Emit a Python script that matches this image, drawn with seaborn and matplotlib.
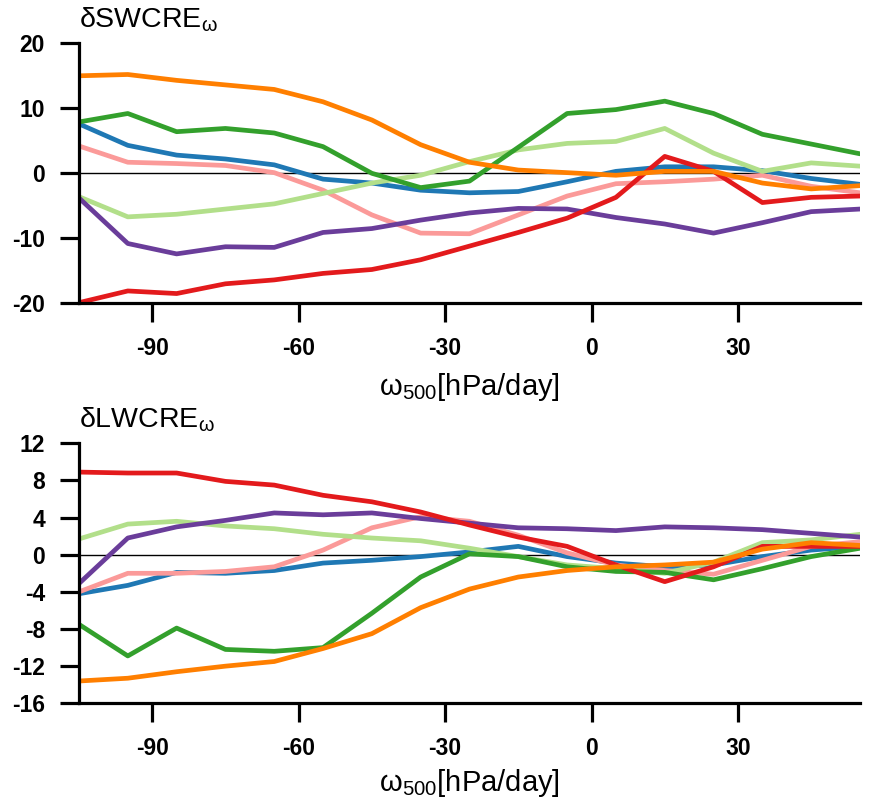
import matplotlib

matplotlib.use("Agg")
import matplotlib.pyplot as plt
import pandas as pd
import seaborn as sns

# omega500 bins (hPa/day)
OMEGA = [-105, -95, -85, -75, -65, -55, -45, -35, -25, -15, -5, 5, 15, 25, 35, 45, 55]

SERIES = ["blue", "pink", "lightgreen", "green", "purple", "red", "orange"]
COLORS = {
    "blue": "#1f78b4",
    "pink": "#fb9a99",
    "lightgreen": "#b2df8a",
    "green": "#33a02c",
    "purple": "#6a3d9a",
    "red": "#e31a1c",
    "orange": "#ff7f00",
}

# delta SWCRE_omega
SW_BLUE = [7.6, 4.3, 2.8, 2.2, 1.3, -0.9, -1.5, -2.6, -3.0, -2.8, -1.3, 0.3, 1.0, 1.0, 0.4, -0.8, -1.7]
SW_PINK = [4.2, 1.7, 1.5, 1.2, 0.1, -2.6, -6.4, -9.2, -9.3, -6.4, -3.5, -1.6, -1.3, -0.9, -0.3, -2.0, -3.0]
SW_LIGHTGREEN = [-3.6, -6.7, -6.3, -5.5, -4.7, -3.1, -1.5, -0.3, 1.8, 3.6, 4.6, 4.9, 6.9, 3.1, 0.3, 1.6, 1.1]
SW_GREEN = [7.9, 9.2, 6.4, 6.9, 6.2, 4.1, 0.0, -2.2, -1.2, 4.0, 9.2, 9.8, 11.1, 9.2, 6.0, 4.5, 3.0]
SW_PURPLE = [-3.8, -10.8, -12.4, -11.3, -11.4, -9.1, -8.5, -7.2, -6.1, -5.4, -5.5, -6.8, -7.8, -9.2, -7.6, -5.9, -5.5]
SW_RED = [-19.9, -18.1, -18.5, -17.0, -16.4, -15.4, -14.8, -13.3, -11.2, -9.1, -6.9, -3.7, 2.6, 0.3, -4.5, -3.7, -3.5]
SW_ORANGE = [15.0, 15.2, 14.3, 13.6, 12.9, 11.0, 8.2, 4.4, 1.7, 0.5, 0.1, -0.3, 0.3, 0.3, -1.5, -2.4, -1.9]

# delta LWCRE_omega
LW_BLUE = [-4.2, -3.3, -1.9, -2.0, -1.7, -0.9, -0.6, -0.2, 0.3, 0.9, -0.2, -0.9, -1.3, -1.1, -0.2, 0.5, 0.9]
LW_PINK = [-4.0, -2.0, -2.0, -1.8, -1.3, 0.5, 2.9, 4.1, 3.6, 2.1, 0.2, -1.1, -1.7, -2.1, -0.6, 0.9, 1.4]
LW_LIGHTGREEN = [1.7, 3.3, 3.6, 3.1, 2.8, 2.2, 1.8, 1.5, 0.7, -0.2, -1.1, -1.5, -2.0, -0.8, 1.3, 1.6, 2.2]
LW_GREEN = [-7.5, -10.9, -7.9, -10.2, -10.4, -10.0, -6.3, -2.4, 0.1, -0.2, -1.3, -1.8, -1.9, -2.7, -1.5, -0.2, 0.7]
LW_PURPLE = [-3.1, 1.8, 3.0, 3.7, 4.5, 4.3, 4.5, 3.9, 3.4, 2.9, 2.8, 2.6, 3.0, 2.9, 2.7, 2.3, 1.9]
LW_RED = [8.9, 8.8, 8.8, 7.9, 7.5, 6.4, 5.7, 4.6, 3.2, 1.9, 0.9, -1.1, -2.9, -1.3, 0.9, 0.9, 0.9]
LW_ORANGE = [-13.6, -13.3, -12.6, -12.0, -11.5, -10.1, -8.5, -5.7, -3.7, -2.4, -1.7, -1.3, -1.1, -0.8, 0.6, 1.3, 1.0]

SW_TICKS = [-20, -10, 0, 10, 20]
LW_TICKS = [-16, -12, -8, -4, 0, 4, 8, 12]
X_TICKS = [-90, -60, -30, 0, 30]


def long_frame(values):
    rows = []
    for name, ys in zip(SERIES, values):
        for x, y in zip(OMEGA, ys):
            rows.append({"omega": x, "value": y, "model": name})
    return pd.DataFrame(rows)


def style_axis(ax, ylim, yticks):
    ax.set_xlim(OMEGA[0], OMEGA[-1])
    ax.set_ylim(*ylim)
    ax.set_xticks(X_TICKS)
    ax.set_yticks(yticks)
    ax.axhline(0, color="black", lw=1.0, zorder=1)
    for side in ["top", "right"]:
        ax.spines[side].set_visible(False)
    for side in ["left", "bottom"]:
        ax.spines[side].set_linewidth(2.3)
        ax.spines[side].set_color("black")
    ax.tick_params(axis="both", length=13.5, width=2.3, labelsize=16.5,
                   color="black", labelcolor="black")
    ax.tick_params(axis="x", pad=11)
    ax.tick_params(axis="y", pad=11)
    for lab in ax.get_xticklabels() + ax.get_yticklabels():
        lab.set_fontweight("bold")
    ax.set_xlabel("")
    ax.set_ylabel("")


sns.set_style("ticks")
plt.rcParams["font.family"] = ["Liberation Sans", "DejaVu Sans"]
plt.rcParams["mathtext.fontset"] = "custom"
plt.rcParams["mathtext.rm"] = "Liberation Sans"
plt.rcParams["axes.unicode_minus"] = False
plt.rcParams["text.color"] = "black"

fig = plt.figure(figsize=(8.75, 8.1), dpi=100)
W, H = 875, 810

ax_sw = fig.add_axes([79 / W, 1 - 303.3 / H, 781 / W, 260 / H])
ax_lw = fig.add_axes([79 / W, 1 - 703.3 / H, 781 / W, 260 / H])

sw = long_frame([SW_BLUE, SW_PINK, SW_LIGHTGREEN, SW_GREEN, SW_PURPLE, SW_RED, SW_ORANGE])
lw = long_frame([LW_BLUE, LW_PINK, LW_LIGHTGREEN, LW_GREEN, LW_PURPLE, LW_RED, LW_ORANGE])

for ax, df in [(ax_sw, sw), (ax_lw, lw)]:
    sns.lineplot(
        data=df,
        x="omega",
        y="value",
        hue="model",
        hue_order=SERIES,
        palette=COLORS,
        linewidth=3.4,
        legend=False,
        ax=ax,
        zorder=2,
    )

style_axis(ax_sw, (-20, 20), SW_TICKS)
style_axis(ax_lw, (-16, 12), LW_TICKS)

fig.text(79 / W, 1 - 27 / H, r"δSWCRE$_\mathregular{ω}$", fontsize=20.5, va="baseline")
fig.text(79 / W, 1 - 427 / H, r"δLWCRE$_\mathregular{ω}$", fontsize=20.5, va="baseline")
xlabel = r"$\mathregular{ω_{500}}$[hPa/day]"
fig.text(469 / W, 1 - 395 / H, xlabel, fontsize=21, ha="center", va="baseline")
fig.text(469 / W, 1 - 791 / H, xlabel, fontsize=21, ha="center", va="baseline")

fig.savefig("out.png", dpi=100)
plt.close(fig)
